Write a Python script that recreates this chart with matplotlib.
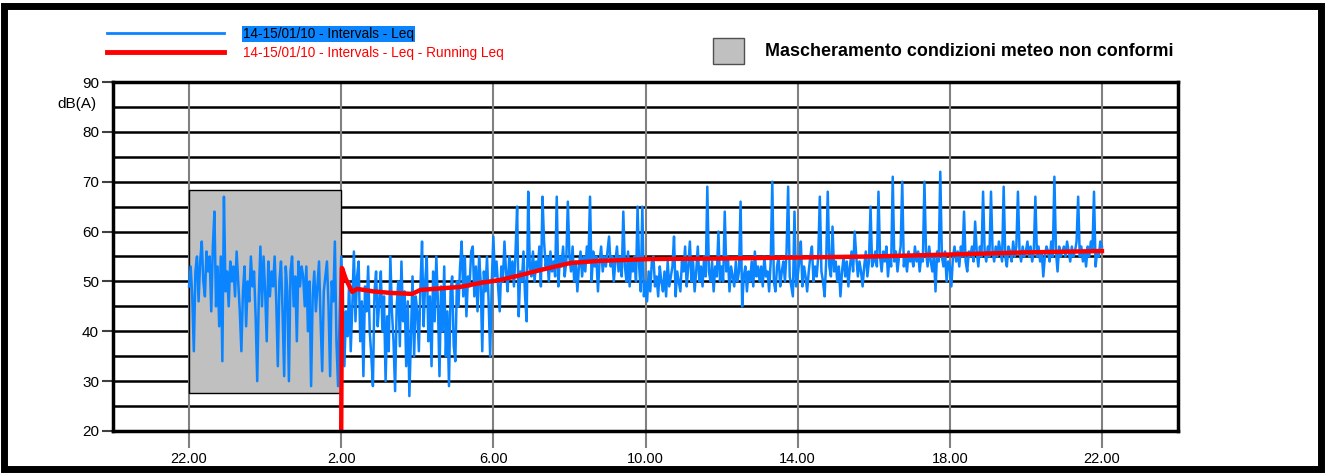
import numpy as np
import matplotlib
matplotlib.use("Agg")
import matplotlib.pyplot as plt
from matplotlib.patches import Rectangle
from matplotlib.lines import Line2D

plt.rcParams['font.family'] = ['Liberation Sans', 'DejaVu Sans']

# ---------------- data ----------------
# Leq intervals, 2.5-minute steps from 22:00 (14/01) to 22:00 (15/01), one row per hour
leq_rows = [
    [49, 53, 47, 36, 52, 55, 46, 54, 58, 50, 47, 56, 52, 55, 44, 57, 64, 45, 53, 41, 55, 34, 67, 48],  # 22
    [52, 45, 54, 50, 53, 47, 56, 50, 44, 36, 48, 53, 41, 50, 46, 55, 49, 52, 43, 30, 47, 57, 45, 55],  # 23
    [48, 38, 54, 47, 52, 49, 55, 46, 33, 50, 54, 44, 31, 53, 48, 30, 52, 55, 45, 51, 38, 54, 49, 53],  # 00
    [51, 45, 53, 40, 50, 29, 47, 52, 44, 49, 54, 42, 32, 48, 51, 54, 45, 31, 50, 46, 58, 38, 29, 43],  # 01
    [55, 48, 33, 44, 39, 50, 36, 45, 56, 42, 51, 54, 38, 46, 31, 49, 44, 53, 40, 35, 29, 48, 52, 41],  # 02
    [46, 52, 40, 47, 30, 43, 36, 55, 44, 38, 28, 45, 50, 37, 54, 42, 48, 33, 46, 27, 39, 51, 35, 47],  # 03
    [44, 36, 49, 58, 41, 50, 55, 38, 47, 33, 52, 42, 55, 46, 31, 49, 40, 53, 35, 44, 29, 48, 51, 37],  # 04
    [34, 50, 45, 53, 58, 47, 55, 43, 51, 49, 56, 57, 47, 53, 44, 55, 50, 36, 52, 48, 55, 46, 35, 50],  # 05
    [59, 51, 54, 49, 44, 53, 50, 58, 52, 48, 55, 51, 54, 49, 56, 65, 43, 52, 50, 56, 47, 42, 68, 53],  # 06
    [51, 56, 50, 54, 52, 57, 49, 67, 58, 53, 55, 50, 56, 52, 54, 51, 67, 49, 55, 53, 57, 51, 54, 66],  # 07
    [55, 52, 57, 50, 54, 48, 53, 56, 51, 55, 52, 57, 54, 67, 50, 56, 53, 55, 48, 54, 57, 52, 55, 53],  # 08
    [56, 59, 53, 55, 50, 54, 57, 52, 55, 51, 64, 53, 50, 56, 49, 54, 52, 55, 50, 65, 53, 48, 65, 47],  # 09
    [50, 46, 52, 48, 54, 55, 49, 51, 47, 53, 50, 48, 52, 47, 54, 49, 51, 53, 59, 47, 52, 50, 48, 54],  # 10
    [52, 57, 49, 53, 58, 50, 54, 48, 52, 57, 50, 53, 49, 55, 51, 69, 52, 50, 54, 48, 53, 51, 60, 50],  # 11
    [53, 50, 64, 52, 55, 48, 53, 51, 49, 54, 50, 52, 66, 45, 51, 53, 48, 52, 50, 54, 49, 56, 51, 53],  # 12
    [50, 53, 49, 55, 51, 52, 48, 54, 70, 50, 48, 53, 55, 49, 52, 54, 50, 56, 69, 51, 49, 47, 64, 49],  # 13
    [51, 54, 58, 49, 53, 51, 48, 52, 55, 57, 50, 53, 51, 55, 67, 52, 50, 47, 54, 68, 53, 51, 61, 52],  # 14
    [54, 50, 53, 47, 52, 55, 51, 54, 49, 53, 56, 52, 60, 55, 51, 54, 52, 49, 53, 56, 51, 54, 65, 53],  # 15
    [54, 56, 53, 68, 55, 52, 56, 54, 57, 51, 55, 53, 71, 54, 56, 52, 55, 57, 70, 53, 55, 52, 56, 54],  # 16
    [55, 53, 57, 54, 56, 52, 55, 54, 70, 56, 53, 57, 54, 52, 55, 48, 56, 54, 72, 55, 53, 56, 50, 54],  # 17
    [53, 49, 55, 57, 54, 56, 53, 57, 55, 64, 54, 52, 56, 55, 57, 54, 62, 56, 53, 57, 55, 68, 56, 54],  # 18
    [57, 55, 68, 56, 54, 57, 55, 58, 56, 54, 69, 55, 53, 57, 56, 54, 58, 55, 57, 68, 56, 54, 57, 55],  # 19
    [56, 58, 55, 57, 54, 56, 67, 55, 57, 54, 56, 51, 55, 57, 56, 54, 58, 55, 71, 56, 52, 57, 55, 56],  # 20
    [57, 55, 58, 56, 54, 57, 55, 56, 58, 67, 55, 57, 54, 56, 53, 57, 55, 58, 56, 68, 53, 56, 55, 58],  # 21
    [57],                                                                                              # 22:00
]
leq_values = [v for row in leq_rows for v in row]
leq_minutes = np.arange(len(leq_values)) * 2.5          # minutes after 22:00
leq_hours = leq_minutes / 60.0

# Running Leq (hours after 22:00, dB)
run_hours = [4.0, 4.02, 4.12, 4.29, 4.42, 4.84, 5.29, 5.87, 6.08, 6.61, 7.13,
             7.66, 8.18, 8.63, 9.24, 10.03, 10.74, 12.13, 13.97, 16.08,
             17.92, 20.03, 21.87, 24.0]
run_values = [20.0, 52.7, 50.5, 47.9, 48.5, 48.0, 47.7, 47.5, 48.3, 48.6, 48.9,
              49.7, 50.3, 51.1, 52.3, 53.7, 54.1, 54.5, 54.6, 54.8,
              55.0, 55.4, 55.8, 56.1]

# Masked (non-compliant weather) period
mask_start, mask_end = 0.0, 4.0
mask_low, mask_high = 27.6, 68.3

tick_hours = [0, 4, 8, 12, 16, 20, 24]
tick_labels = ["22.00", "2.00", "6.00", "10.00", "14.00", "18.00", "22.00"]
y_ticks = [20, 30, 40, 50, 60, 70, 80, 90]

label_leq = "14-15/01/10 - Intervals - Leq"
label_run = "14-15/01/10 - Intervals - Leq - Running Leq"
label_mask = "Mascheramento condizioni meteo non conformi"

BLUE = "#0A84FF"
RED = "#FF0000"

# ---------------- figure ----------------
W, H = 1325, 474
fig = plt.figure(figsize=(W / 100, H / 100), dpi=100)
fig.patch.set_facecolor("white")

def fx(px):
    return px / W

def fy(py):
    return 1 - py / H

# outer frame
fig.patches.append(Rectangle((fx(4), fy(469)), fx(1321) - fx(4), fy(6) - fy(469),
                             transform=fig.transFigure, fill=False,
                             edgecolor="black", linewidth=5, zorder=0))

ax = fig.add_axes([fx(113), fy(431), fx(1178) - fx(113), fy(82) - fy(431)])
ax.set_xlim(-2, 26)
ax.set_ylim(20, 90)

# grid
for yv in range(25, 90, 5):
    ax.axhline(yv, color="black", lw=1.8, zorder=1)
for xv in tick_hours:
    ax.axvline(xv, color="#808080", lw=1.5, zorder=1)

# mask
ax.add_patch(Rectangle((mask_start, mask_low), mask_end - mask_start, mask_high - mask_low,
                       facecolor="#C0C0C0", edgecolor="black", lw=1.0, zorder=2))

ax.plot(leq_hours, leq_values, color=BLUE, lw=1.8, zorder=3)
ax.plot(run_hours, run_values, color=RED, lw=3.2, zorder=4)

for s in ax.spines.values():
    s.set_linewidth(2.5)
    s.set_color("black")
    s.set_zorder(5)

ax.set_xticks(tick_hours)
ax.set_xticklabels(tick_labels, fontsize=10.5)
ax.tick_params(axis="x", length=12, width=1.5, color="#808080", pad=3)
ax.set_yticks(y_ticks)
ax.set_yticklabels([str(v) for v in y_ticks], fontsize=11)
ax.tick_params(axis="y", length=8, width=1.5, color="#404040", pad=2)

fig.text(fx(96), fy(104), "dB(A)", ha="right", va="center", fontsize=11)

# legend
fig.add_artist(Line2D([fx(107), fx(224)], [fy(33), fy(33)], color=BLUE, lw=2,
                      transform=fig.transFigure))
fig.add_artist(Line2D([fx(107), fx(224)], [fy(52), fy(52)], color=RED, lw=3.5,
                      transform=fig.transFigure))
fig.text(fx(243), fy(34), label_leq, ha="left", va="center", fontsize=9.8, color="black",
         bbox=dict(boxstyle="square,pad=0.08", facecolor="#0A84FF", edgecolor="none"))
fig.text(fx(243), fy(53), label_run, ha="left", va="center", fontsize=9.8, color=RED)

fig.patches.append(Rectangle((fx(713), fy(64)), fx(744) - fx(713), fy(38) - fy(64),
                             transform=fig.transFigure, facecolor="#C0C0C0",
                             edgecolor="#505050", lw=1))
fig.text(fx(765), fy(52), label_mask, ha="left", va="center", fontsize=12.9,
         fontweight="bold", color="black")

fig.savefig("out.png", dpi=100)
